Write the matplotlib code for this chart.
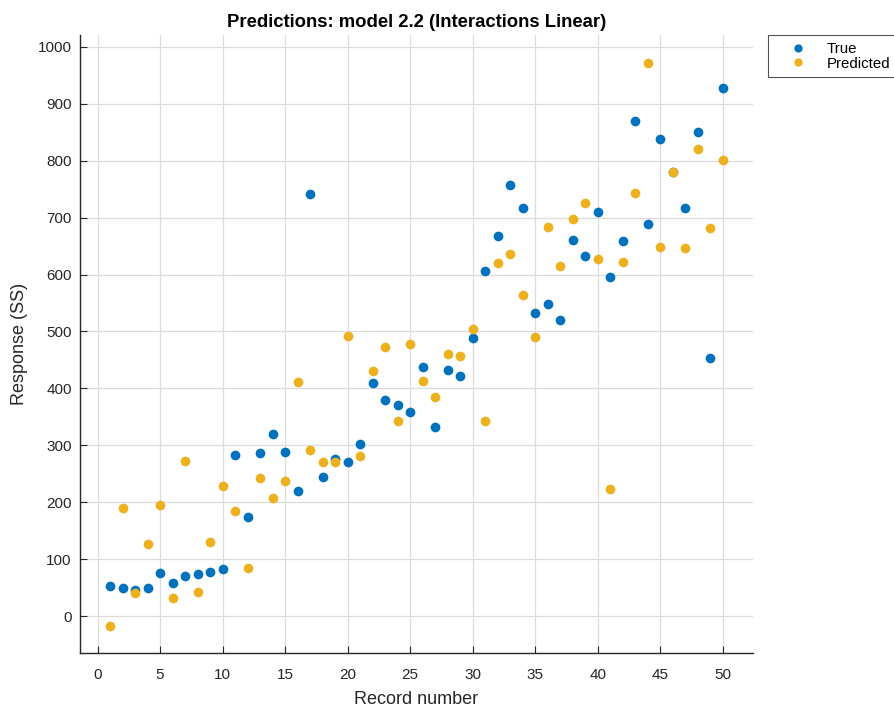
import matplotlib
matplotlib.use("Agg")
import matplotlib.pyplot as plt
import numpy as np

record = list(range(1, 51))
true_vals = [52, 49, 46, 50, 75, 58, 71, 73, 78, 83,
             283, 174, 287, 319, 289, 219, 741, 244, 276, 270,
             303, 409, 379, 371, 359, 437, 333, 432, 422, 488,
             607, 667, 757, 717, 533, 548, 521, 661, 632, 710,
             595, 659, 869, 689, 838, 780, 717, 851, 453, 927]
pred_vals = [-18, 190, 41, 126, 195, 31, 273, 43, 130, 229,
             185, 85, 243, 208, 238, 412, 292, 270, 270, 492,
             281, 431, 472, 342, 478, 413, 385, 461, 457, 504,
             342, 620, 636, 564, 490, 683, 615, 698, 726, 627,
             224, 622, 743, 971, 648, 780, 646, 821, 682, 801]
x_ticks = [0, 5, 10, 15, 20, 25, 30, 35, 40, 45, 50]
y_ticks = [0, 100, 200, 300, 400, 500, 600, 700, 800, 900, 1000]

plt.rcParams['font.family'] = ['Liberation Sans', 'DejaVu Sans']

fig = plt.figure(figsize=(8.95, 7.08), dpi=100)
ax = fig.add_axes([80/895, 55/708, (753-80)/895, (653-35)/708])

blue = '#0072BD'
yellow = '#EDB120'
ax.plot(record, true_vals, 'o', color=blue, markersize=7, markeredgewidth=0, label='True', zorder=3)
ax.plot(record, pred_vals, 'o', color=yellow, markersize=7, markeredgewidth=0, label='Predicted', zorder=3)

ax.set_xlim(-1.4, 52.4)
ax.set_ylim(-65, 1021)
ax.set_xticks(x_ticks)
ax.set_yticks(y_ticks)
ax.grid(True, color='#dcdcdc', linewidth=0.9)
ax.set_axisbelow(True)
for s in ['top', 'right']:
    ax.spines[s].set_visible(False)
for s in ['left', 'bottom']:
    ax.spines[s].set_color('#262626')
    ax.spines[s].set_linewidth(1.0)
ax.tick_params(direction='in', length=5, labelsize=11, colors='#262626', labelcolor='#262626')
ax.tick_params(axis='x', pad=11)
ax.tick_params(axis='y', pad=6)
ax.set_xlabel('Record number', fontsize=13, color='#262626', labelpad=6)
ax.set_ylabel('Response (SS)', fontsize=13, color='#262626', labelpad=7)
ax.set_title('Predictions: model 2.2 (Interactions Linear)', fontsize=13.3, fontweight='bold', color='#000000', pad=6)

leg = ax.legend(loc='upper left', bbox_to_anchor=(768/895, 1 - 35/708), bbox_transform=fig.transFigure,
                frameon=True, fancybox=False, fontsize=10.8, handlelength=3.1, handletextpad=0.36,
                borderpad=0.45, labelspacing=0.05, borderaxespad=0, markerscale=0.85)
leg.get_frame().set_edgecolor('#262626')
leg.get_frame().set_linewidth(0.8)

fig.savefig('out.png', dpi=100)
